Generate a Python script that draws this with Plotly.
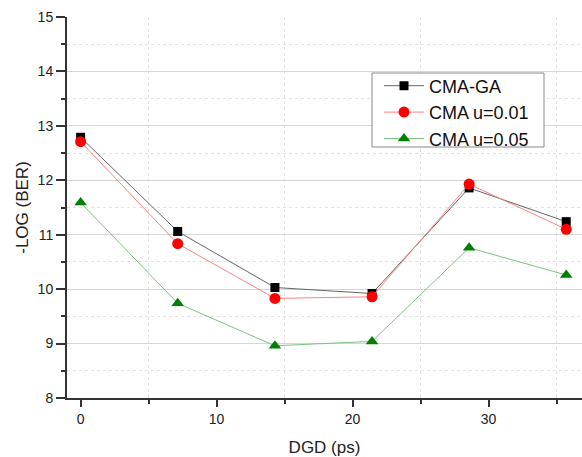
import plotly.graph_objects as go

dgd = [0, 7.14, 14.29, 21.43, 28.57, 35.71]
cma_ga = [12.79, 11.06, 10.03, 9.92, 11.86, 11.24]
cma_u001 = [12.71, 10.835, 9.83, 9.86, 11.93, 11.10]
cma_u005 = [11.59, 9.74, 8.96, 9.04, 10.76, 10.26]

series = [
    ("CMA-GA", cma_ga, "black", "#666666", "square", 9),
    ("CMA u=0.01", cma_u001, "#ff0000", "#ff8080", "circle", 11),
    ("CMA u=0.05", cma_u005, "#008000", "#80c080", "triangle-up", 11),
]

fig = go.Figure()
for name, ys, mc, lc, sym, sz in series:
    fig.add_trace(go.Scatter(
        x=dgd, y=ys, name=name, mode="lines+markers",
        line=dict(color=lc, width=1),
        marker=dict(color=mc, symbol=sym, size=sz, line=dict(width=0)),
    ))

# legend frame (pixel box converted to paper coordinates of the plot area)
L, T, W, H = 67, 17, 515, 381
def px(x):
    return (x - L) / W
def py(y):
    return (T + H - y) / H

fig.add_shape(type="rect", xref="paper", yref="paper",
              x0=px(372), x1=px(544), y0=py(147), y1=py(73),
              line=dict(color="#8a8a8a", width=1), fillcolor="white",
              layer="above")

font = "Liberation Sans, Arial, sans-serif"
fig.update_layout(
    width=582, height=457,
    margin=dict(l=L, r=0, t=T, b=457 - T - H),
    plot_bgcolor="white", paper_bgcolor="white",
    font=dict(family=font, color="#222222", size=14),
    showlegend=True,
    legend=dict(
        x=px(379), y=py(67.5), xanchor="left", yanchor="top",
        borderwidth=0, bgcolor="rgba(0,0,0,0)",
        font=dict(size=18, family=font, color="#111111"),
        tracegroupgap=0, itemwidth=40,
    ),
    xaxis=dict(
        range=[-1, 36.87], tickvals=[0, 10, 20, 30],
        showgrid=False, zeroline=False,
        showline=True, linecolor="#333333", linewidth=2,
        ticks="outside", ticklen=7, tickwidth=1.5, tickcolor="#333333",
        tickfont=dict(size=14),
        minor=dict(tickvals=[5, 15, 25, 35], ticks="outside", ticklen=4,
                   tickwidth=1.5, tickcolor="#333333",
                   showgrid=True, gridcolor="#e2e2e2", griddash="dot", gridwidth=1),
        title=dict(text="DGD (ps)", font=dict(size=17), standoff=15),
    ),
    yaxis=dict(
        range=[8, 15], tickvals=[8, 9, 10, 11, 12, 13, 14, 15],
        showgrid=True, gridcolor="#d6d6d6", gridwidth=1,
        zeroline=False,
        showline=True, linecolor="#333333", linewidth=2,
        ticks="outside", ticklen=9, tickwidth=1.5, tickcolor="#333333",
        tickfont=dict(size=14),
        minor=dict(dtick=0.5, tick0=8, ticks="outside", ticklen=4,
                   tickwidth=1.5, tickcolor="#333333",
                   showgrid=True, gridcolor="#e2e2e2", griddash="dot", gridwidth=1),
        title=dict(text="-LOG (BER)", font=dict(size=17), standoff=5),
    ),
)

fig.write_html(
    "out.html",
    config={"displayModeBar": False},
    post_script="document.body.style.margin='0';document.body.style.overflow='hidden';",
)
